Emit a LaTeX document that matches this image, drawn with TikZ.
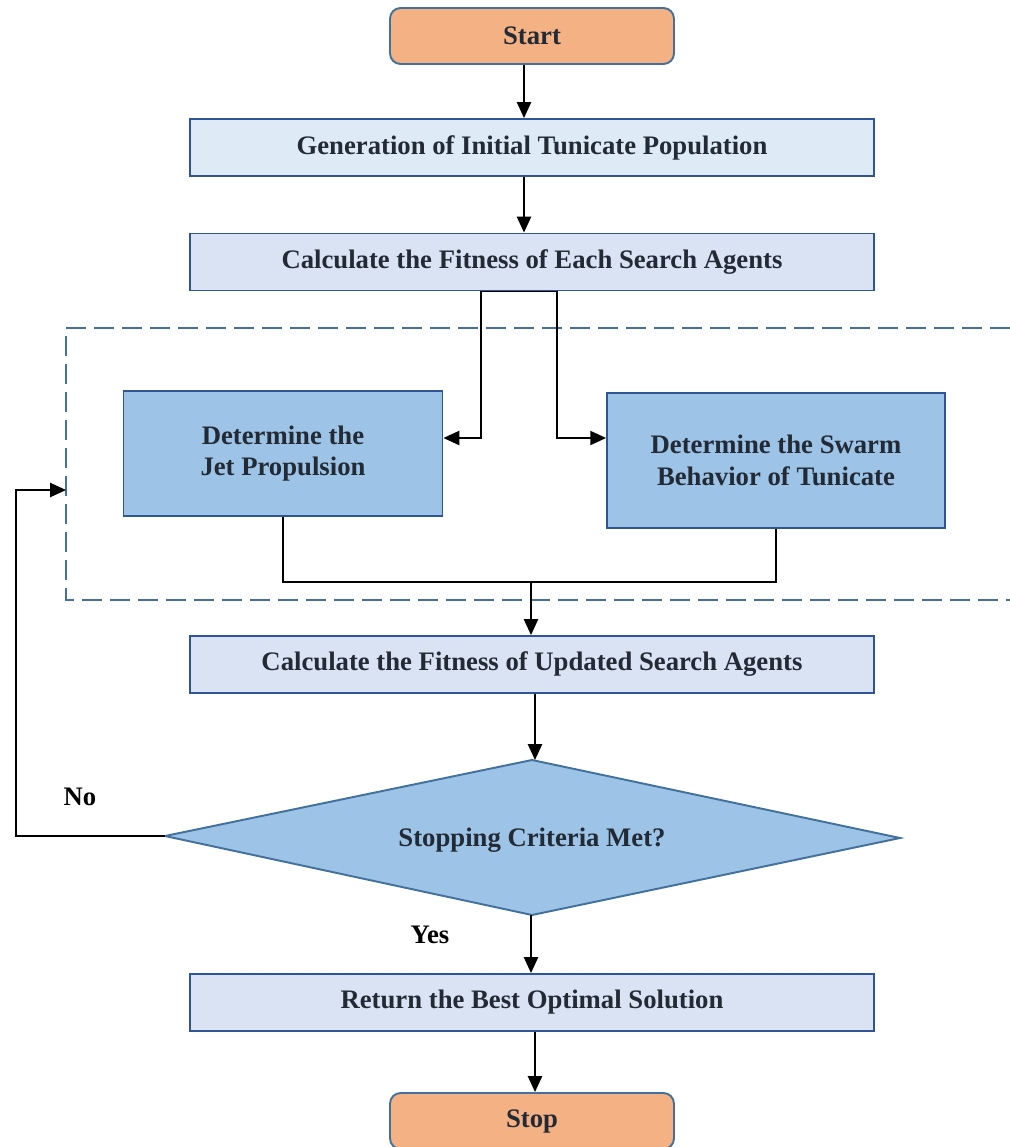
\documentclass[tikz,border=0pt]{standalone}
\usepackage{fontspec}
\setmainfont{Liberation Serif}
\usetikzlibrary{arrows.meta}

\definecolor{startfill}{HTML}{F4B183}
\definecolor{genfill}{HTML}{DEEBF7}
\definecolor{calcfill}{HTML}{DAE3F3}
\definecolor{stepfill}{HTML}{9DC3E6}
\definecolor{edgeblue}{HTML}{41719C}
\definecolor{boxblue}{HTML}{2F5597}
\definecolor{labeltext}{HTML}{222A35}

\begin{document}
\begin{tikzpicture}[x=0.02cm,y=-0.02cm,
  txt/.style={font=\fontsize{15.2}{18}\selectfont\bfseries,text=labeltext,align=center},
  term/.style={txt,draw=edgeblue,line width=1.1pt,fill=startfill,rounded corners=6pt,minimum width=5.68cm,minimum height=1.12cm},
  proc/.style={txt,draw=boxblue,line width=1.1pt,minimum width=13.68cm,minimum height=1.14cm},
  phase/.style={txt,draw=boxblue,line width=1.1pt,fill=stepfill},
  arr/.style={line width=1.1pt,-{Triangle[length=9pt,width=8pt]}},
  link/.style={line width=1.1pt}]

\useasboundingbox (0,0) rectangle (1010,1147);

\node[term] (start) at (532,36) {Start};
\node[proc,fill=genfill] (gen) at (532,147.5) {Generation of Initial Tunicate Population};
\node[proc,fill=calcfill] (calc) at (532,262) {Calculate the Fitness of Each Search Agents};

\draw[edgeblue,line width=1.1pt,dash pattern=on 0.4cm off 0.16cm] (1010,328) -- (66,328) -- (66,600) -- (1010,600);
\coordinate (loopin) at (66,490);

\node[phase,minimum width=6.38cm,minimum height=2.5cm] (jet) at (283,453.5) {Determine the\\Jet Propulsion};
\node[phase,minimum width=6.76cm,minimum height=2.7cm] (swarm) at (776,460.5) {Determine the Swarm\\Behavior of Tunicate};

\node[proc,fill=calcfill] (update) at (532,664.5) {Calculate the Fitness of Updated Search Agents};

\coordinate (critT) at (532,760);
\coordinate (critR) at (900,838);
\coordinate (critB) at (532,915);
\coordinate (critL) at (165,836);
\draw[edgeblue,line width=1.1pt,fill=stepfill] (critT) -- (critR) -- (critB) -- (critL) -- cycle;
\node[txt] (crit) at (532,840) {Stopping Criteria Met?};

\node[proc,fill=calcfill] (best) at (532,1002.5) {Return the Best Optimal Solution};
\node[term] (stop) at (532,1121) {Stop};

\node[font=\fontsize{15.2}{18}\selectfont\bfseries] (no) at (80,797) {No};
\node[font=\fontsize{15.2}{18}\selectfont\bfseries] (yes) at (430,935) {Yes};

\draw[arr] ([xshift=-0.16cm]start.south) -- ([xshift=-0.16cm]gen.north);
\draw[arr] ([xshift=-0.16cm]gen.south) -- ([xshift=-0.16cm]calc.north);

\coordinate (splitL) at (481,438);
\coordinate (splitR) at (557,438);
\draw[arr] ([xshift=-0.26cm]calc.south) -| (splitL) -- (splitL -| jet.east);
\draw[arr] ([xshift=-0.26cm]calc.south) -| (splitR) -- (splitR -| swarm.west);

\coordinate (merge) at (531,582);
\draw[link] (jet.south) |- (merge);
\draw[link] (swarm.south) |- (merge);
\draw[arr] (merge) -- (merge |- update.north);

\draw[arr] ([xshift=0.06cm]update.south) -- ([xshift=0.06cm]critT);
\draw[arr] ([xshift=-0.02cm]critB) -- ([xshift=-0.02cm]best.north);
\draw[arr] ([xshift=0.06cm]best.south) -- ([xshift=0.06cm]stop.north);

\draw[arr] (critL) -- (16,836) -- (16,490) -- (loopin);
\end{tikzpicture}
\end{document}
